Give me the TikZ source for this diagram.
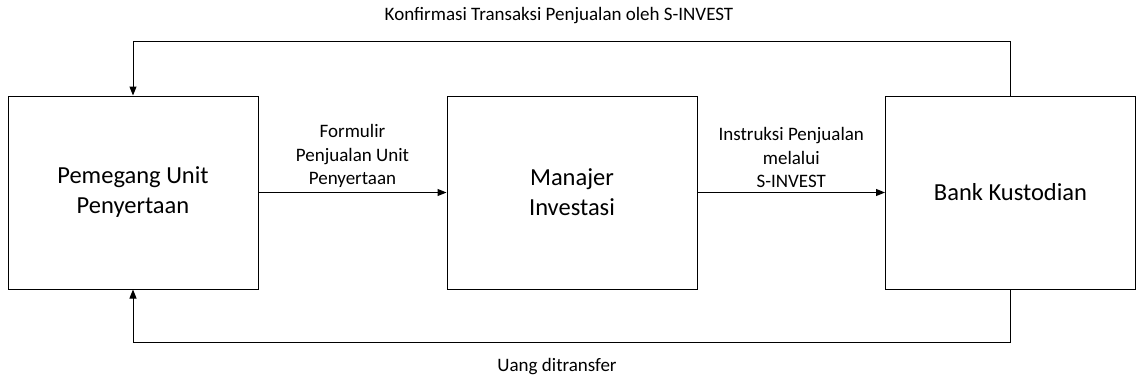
\documentclass[tikz,border=0pt]{standalone}
\usepackage{fontspec}
\setmainfont{Carlito}
\usetikzlibrary{arrows.meta}
\tikzset{
  blok/.style={draw,line width=1pt,minimum width=250pt,minimum height=193pt,
    align=center,font=\fontsize{24.5}{30}\selectfont},
  ket/.style={align=center,font=\fontsize{19}{23.5}\selectfont},
  panah/.style={line width=1pt,-{Triangle[length=9pt,width=7pt]}}
}
\begin{document}
\begin{tikzpicture}[x=1pt,y=-1pt]
    \useasboundingbox (0,0) rectangle (1137,380);
    \node[blok] (pemegang) at (133,192.5) {Pemegang Unit\\Penyertaan};
    \node[blok] (manajer) at (572,192.5) {Manajer\\Investasi};
    \node[blok] (bank) at (1010.5,192.5) {Bank Kustodian};
    \draw[panah] (pemegang) -- (manajer) node[ket,above,midway,yshift=1pt]
    {Formulir\\Penjualan Unit\\Penyertaan};
    \draw[panah] (manajer) -- (bank) node[ket,above,midway,yshift=1pt]
    {Instruksi Penjualan\\melalui\\S-INVEST};
    \draw[panah] (bank.north) -- ++(0,-54.5) coordinate (atas) -| (pemegang.north);
    \draw[panah] (bank.south) -- ++(0,53) coordinate (bawah) -| (pemegang.south);
    \node[ket] (konfirmasi) at (559,16) {Konfirmasi Transaksi Penjualan oleh S-INVEST};
    \node[ket] (uang) at (557,367) {Uang ditransfer};
  \end{tikzpicture}
\end{document}
